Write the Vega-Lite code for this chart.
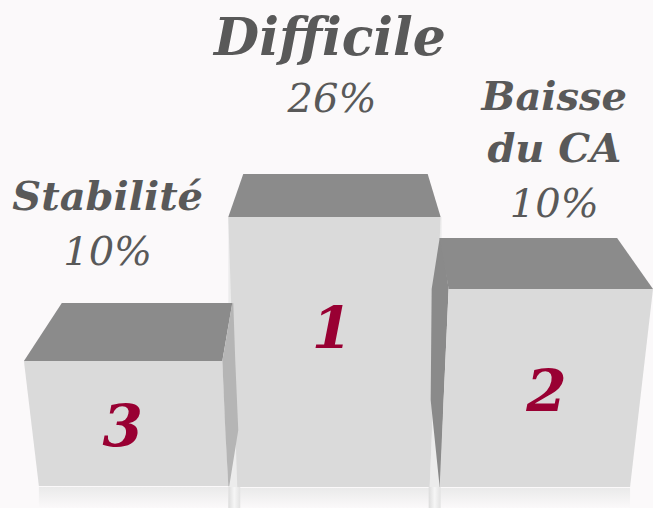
{
  "$schema": "https://vega.github.io/schema/vega-lite/v6.json",
  "width": 653,
  "height": 508,
  "padding": 0,
  "autosize": {"type": "fit", "contains": "padding"},
  "background": "#fbf9fa",
  "config": {"view": {"stroke": null}},
  "datasets": {
    "faces": [
      {"block": "1", "id": "1-sideL", "face": "sideW", "y": 217, "x": 229, "x2": 230},
      {"block": "1", "id": "1-sideL", "face": "sideW", "y": 487, "x": 229, "x2": 239},
      {"block": "1", "id": "1-sideR", "face": "sideW", "y": 217, "x": 442, "x2": 443},
      {"block": "1", "id": "1-sideR", "face": "sideW", "y": 487, "x": 431, "x2": 442},
      {"block": "1", "id": "1-top", "face": "top", "y": 174, "x": 244, "x2": 429},
      {"block": "1", "id": "1-top", "face": "top", "y": 217, "x": 229, "x2": 442},
      {"block": "1", "id": "1-front", "face": "front", "y": 217, "x": 229, "x2": 442},
      {"block": "1", "id": "1-front", "face": "front", "y": 487, "x": 238, "x2": 431},
      {"block": "3", "id": "3-top", "face": "top", "y": 303, "x": 62, "x2": 233},
      {"block": "3", "id": "3-top", "face": "top", "y": 361, "x": 24, "x2": 223},
      {"block": "3", "id": "3-front", "face": "front", "y": 361, "x": 24, "x2": 223},
      {"block": "3", "id": "3-front", "face": "front", "y": 486, "x": 39, "x2": 229},
      {"block": "3", "id": "3-side", "face": "sideL", "y": 303, "x": 233, "x2": 234},
      {"block": "3", "id": "3-side", "face": "sideL", "y": 361, "x": 223, "x2": 236},
      {"block": "3", "id": "3-side", "face": "sideL", "y": 430, "x": 226, "x2": 239},
      {"block": "3", "id": "3-side", "face": "sideL", "y": 486, "x": 229, "x2": 230},
      {"block": "2", "id": "2-side", "face": "sideD", "y": 238, "x": 441, "x2": 443},
      {"block": "2", "id": "2-side", "face": "sideD", "y": 289, "x": 433, "x2": 450},
      {"block": "2", "id": "2-side", "face": "sideD", "y": 400, "x": 432, "x2": 445},
      {"block": "2", "id": "2-side", "face": "sideD", "y": 487, "x": 441, "x2": 442},
      {"block": "2", "id": "2-top", "face": "top", "y": 238, "x": 441, "x2": 619},
      {"block": "2", "id": "2-top", "face": "top", "y": 289, "x": 450, "x2": 655},
      {"block": "2", "id": "2-front", "face": "front", "y": 289, "x": 450, "x2": 655},
      {"block": "2", "id": "2-front", "face": "front", "y": 487, "x": 441, "x2": 632}
    ],
    "floor": [
      {"block": "3", "x": 39, "x2": 229, "y": 487, "y2": 508},
      {"block": "1", "x": 238, "x2": 431, "y": 488, "y2": 508},
      {"block": "2", "x": 441, "x2": 632, "y": 488, "y2": 508}
    ],
    "glints": [
      {"x": 229, "x2": 241, "y": 486, "y2": 508},
      {"x": 430, "x2": 442, "y": 487, "y2": 508}
    ],
    "labels": [
      {"kind": "title1", "text": "Difficile", "x": 331, "y": 55},
      {"kind": "pct", "text": "26%", "x": 333, "y": 112},
      {"kind": "title", "text": "Baisse", "x": 556, "y": 110},
      {"kind": "title", "text": "du CA", "x": 556, "y": 162},
      {"kind": "pct", "text": "10%", "x": 556, "y": 217},
      {"kind": "title", "text": "Stabilité", "x": 108, "y": 210},
      {"kind": "pct", "text": "10%", "x": 108, "y": 265},
      {"kind": "rank", "text": "3", "x": 123, "y": 446},
      {"kind": "rank", "text": "1", "x": 333, "y": 348},
      {"kind": "rank", "text": "2", "x": 548, "y": 411}
    ]
  },
  "layer": [
    {
      "data": {"name": "floor"},
      "mark": {"type": "rect", "fill": {"gradient": "linear", "x1": 0, "y1": 0, "x2": 0, "y2": 1, "stops": [{"offset": 0, "color": "#eaeaea"}, {"offset": 1, "color": "#fbf9fa"}]}},
      "encoding": {
        "x": {"field": "x", "type": "quantitative", "scale": {"domain": [0, 653], "nice": false, "zero": false}, "axis": null},
        "x2": {"field": "x2"},
        "y": {"field": "y", "type": "quantitative", "scale": {"domain": [0, 508], "nice": false, "zero": false, "reverse": true}, "axis": null},
        "y2": {"field": "y2"}
      }
    },
    {
      "data": {"name": "glints"},
      "mark": {"type": "rect", "fill": {"gradient": "linear", "x1": 0, "y1": 0, "x2": 1, "y2": 0, "stops": [{"offset": 0, "color": "#dcdcdc"}, {"offset": 0.5, "color": "#f6f6f6"}, {"offset": 1, "color": "#e2e2e2"}]}},
      "encoding": {
        "x": {"field": "x", "type": "quantitative", "scale": {"domain": [0, 653], "nice": false, "zero": false}, "axis": null},
        "x2": {"field": "x2"},
        "y": {"field": "y", "type": "quantitative", "scale": {"domain": [0, 508], "nice": false, "zero": false, "reverse": true}, "axis": null},
        "y2": {"field": "y2"}
      }
    },
    {
      "data": {"name": "faces"},
      "transform": [{"filter": "datum.block === '1'"}],
      "mark": {"type": "area", "orient": "horizontal"},
      "encoding": {
        "y": {"field": "y", "type": "quantitative", "scale": {"domain": [0, 508], "nice": false, "zero": false, "reverse": true}, "axis": null},
        "x": {"field": "x", "type": "quantitative", "scale": {"domain": [0, 653], "nice": false, "zero": false}, "axis": null},
        "x2": {"field": "x2"},
        "color": {"field": "face", "type": "nominal", "scale": {"domain": ["top", "front", "sideL", "sideD", "sideW"], "range": ["#8b8b8b", "#dadada", "#b5b5b5", "#8a8a8a", "#ececec"]}, "legend": null},
        "detail": {"field": "id"}
      }
    },
    {
      "data": {"name": "faces"},
      "transform": [{"filter": "datum.block === '3'"}],
      "mark": {"type": "area", "orient": "horizontal"},
      "encoding": {
        "y": {"field": "y", "type": "quantitative", "scale": {"domain": [0, 508], "nice": false, "zero": false, "reverse": true}, "axis": null},
        "x": {"field": "x", "type": "quantitative", "scale": {"domain": [0, 653], "nice": false, "zero": false}, "axis": null},
        "x2": {"field": "x2"},
        "color": {"field": "face", "type": "nominal", "scale": {"domain": ["top", "front", "sideL", "sideD", "sideW"], "range": ["#8b8b8b", "#dadada", "#b5b5b5", "#8a8a8a", "#ececec"]}, "legend": null},
        "detail": {"field": "id"}
      }
    },
    {
      "data": {"name": "faces"},
      "transform": [{"filter": "datum.block === '2'"}],
      "mark": {"type": "area", "orient": "horizontal"},
      "encoding": {
        "y": {"field": "y", "type": "quantitative", "scale": {"domain": [0, 508], "nice": false, "zero": false, "reverse": true}, "axis": null},
        "x": {"field": "x", "type": "quantitative", "scale": {"domain": [0, 653], "nice": false, "zero": false}, "axis": null},
        "x2": {"field": "x2"},
        "color": {"field": "face", "type": "nominal", "scale": {"domain": ["top", "front", "sideL", "sideD", "sideW"], "range": ["#8b8b8b", "#dadada", "#b5b5b5", "#8a8a8a", "#ececec"]}, "legend": null},
        "detail": {"field": "id"}
      }
    },
    {
      "data": {"name": "labels"},
      "transform": [{"filter": "datum.kind === 'title1'"}],
      "mark": {"type": "text", "font": "DejaVu Serif", "fontStyle": "italic", "fontWeight": "bold", "fontSize": 52, "color": "#595959", "align": "center", "baseline": "alphabetic"},
      "encoding": {
        "x": {"field": "x", "type": "quantitative", "scale": {"domain": [0, 653], "nice": false, "zero": false}, "axis": null},
        "y": {"field": "y", "type": "quantitative", "scale": {"domain": [0, 508], "nice": false, "zero": false, "reverse": true}, "axis": null},
        "text": {"field": "text"}
      }
    },
    {
      "data": {"name": "labels"},
      "transform": [{"filter": "datum.kind === 'title'"}],
      "mark": {"type": "text", "font": "DejaVu Serif", "fontStyle": "italic", "fontWeight": "bold", "fontSize": 40, "color": "#595959", "align": "center", "baseline": "alphabetic"},
      "encoding": {
        "x": {"field": "x", "type": "quantitative", "scale": {"domain": [0, 653], "nice": false, "zero": false}, "axis": null},
        "y": {"field": "y", "type": "quantitative", "scale": {"domain": [0, 508], "nice": false, "zero": false, "reverse": true}, "axis": null},
        "text": {"field": "text"}
      }
    },
    {
      "data": {"name": "labels"},
      "transform": [{"filter": "datum.kind === 'pct'"}],
      "mark": {"type": "text", "font": "DejaVu Serif", "fontStyle": "italic", "fontWeight": "normal", "fontSize": 40, "color": "#595959", "align": "center", "baseline": "alphabetic"},
      "encoding": {
        "x": {"field": "x", "type": "quantitative", "scale": {"domain": [0, 653], "nice": false, "zero": false}, "axis": null},
        "y": {"field": "y", "type": "quantitative", "scale": {"domain": [0, 508], "nice": false, "zero": false, "reverse": true}, "axis": null},
        "text": {"field": "text"}
      }
    },
    {
      "data": {"name": "labels"},
      "transform": [{"filter": "datum.kind === 'rank'"}],
      "mark": {"type": "text", "font": "DejaVu Serif", "fontStyle": "italic", "fontWeight": "bold", "fontSize": 58, "color": "#990033", "align": "center", "baseline": "alphabetic"},
      "encoding": {
        "x": {"field": "x", "type": "quantitative", "scale": {"domain": [0, 653], "nice": false, "zero": false}, "axis": null},
        "y": {"field": "y", "type": "quantitative", "scale": {"domain": [0, 508], "nice": false, "zero": false, "reverse": true}, "axis": null},
        "text": {"field": "text"}
      }
    }
  ]
}
